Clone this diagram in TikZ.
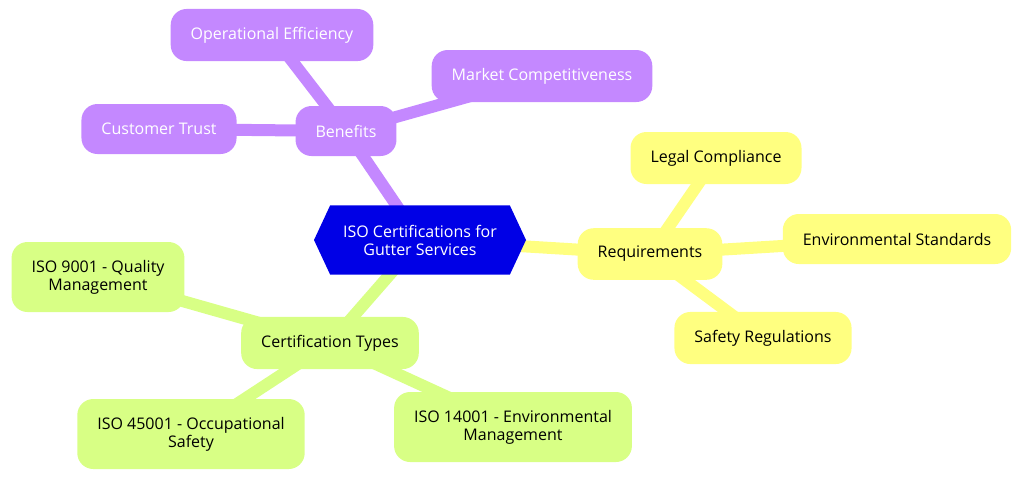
\documentclass[tikz,border=0pt]{standalone}
\usepackage{fontspec}
\setmainfont{Open Sans}
\usepackage{tikz}
\usetikzlibrary{shapes,shapes.symbols,positioning,backgrounds}
\definecolor{hubblue}{RGB}{0,0,230}
\definecolor{benpurple}{RGB}{196,136,255}
\definecolor{reqyellow}{RGB}{255,255,128}
\definecolor{certgreen}{RGB}{216,255,133}

\begin{document}
\begin{tikzpicture}[x=0.75pt,y=-0.75pt,
			main node/.style={signal, signal to=west and east, signal pointer angle=130, fill=hubblue, text=white, align=center, font=\fontsize{12}{13.5}\selectfont, minimum width=159pt, minimum height=52pt, inner xsep=4pt},
			purple node/.style={rectangle, fill=benpurple, text=white, align=center, rounded corners=12pt, font=\fontsize{12}{13.5}\selectfont, minimum height=37.5pt, inner xsep=15pt, inner ysep=13.5pt},
			yellow node/.style={purple node, fill=reqyellow, text=black},
			green node/.style={purple node, fill=certgreen, text=black}]
			\useasboundingbox (0,0) rectangle (1024,480);
			
			\node[main node] (1) at (420,240) {ISO Certifications for\\Gutter Services};
			
			% benefits
			\node[purple node] (2) at (346,131) {Benefits};
			\node[purple node] (3) at (272,35) {Operational Efficiency};
			\node[purple node] (4) at (542,76) {Market Competitiveness};
			\node[purple node] (5) at (159,129) {Customer Trust};
			
			% requirements
			\node[yellow node] (6) at (650,254) {Requirements};
			\node[yellow node] (7) at (716,158) {Legal Compliance};
			\node[yellow node] (8) at (897,239) {Environmental Standards};
			\node[yellow node] (9) at (763,338) {Safety Regulations};
			
			% certification types
			\node[green node] (10) at (330,343) {Certification Types};
			\node[green node] (11) at (98,277) {ISO 9001 - Quality\\Management};
			\node[green node] (12) at (191,434) {ISO 45001 - Occupational\\Safety};
			\node[green node] (13) at (513,427) {ISO 14001 - Environmental\\Management};
			
			\begin{pgfonlayer}{background}
			\path[line width=9pt]
			(1.center) edge [benpurple] (2.center)
			(2.center) edge [benpurple] (3.center)
			(2.center) edge [benpurple] (4.center)
			(2.center) edge [benpurple] (5.center)
			(1.center) edge [reqyellow] (6.center)
			(6.center) edge [reqyellow] (7.center)
			(6.center) edge [reqyellow] (8.center)
			(6.center) edge [reqyellow] (9.center)
			(1.center) edge [certgreen] (10.center)
			(10.center) edge [certgreen] (11.center)
			(10.center) edge [certgreen] (12.center)
			(10.center) edge [certgreen] (13.center);
			\end{pgfonlayer}
			
		\end{tikzpicture}
\end{document}
